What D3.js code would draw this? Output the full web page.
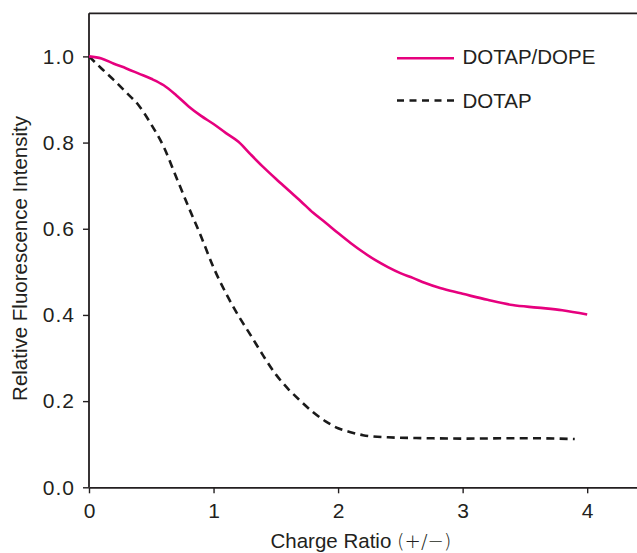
<!DOCTYPE html>
<html>
<head>
<meta charset="utf-8">
<script src="https://cdn.jsdelivr.net/npm/d3@7"></script>
<style>
  html, body { margin: 0; padding: 0; background: #fff; }
  svg { display: block; font-family: "Liberation Sans", Arial, sans-serif; }
</style>
</head>
<body>
<svg id="chart" width="637" height="553"></svg>
<script>
// ---- data ----
const dopeX = [0, 0.1, 0.2, 0.3, 0.4, 0.5, 0.6, 0.7, 0.8, 0.9, 1.0, 1.1, 1.2, 1.3, 1.4, 1.5, 1.6, 1.7, 1.8, 1.9, 2.0, 2.1, 2.2, 2.3, 2.4, 2.5, 2.6, 2.7, 2.8, 2.9, 3.0, 3.2, 3.4, 3.6, 3.8, 4.0];
const dopeY = [1.0, 0.995, 0.983, 0.972, 0.960, 0.948, 0.933, 0.910, 0.884, 0.862, 0.843, 0.822, 0.802, 0.772, 0.743, 0.716, 0.690, 0.664, 0.637, 0.614, 0.590, 0.567, 0.546, 0.527, 0.511, 0.497, 0.486, 0.474, 0.464, 0.456, 0.449, 0.435, 0.423, 0.417, 0.411, 0.401];
const dotapX = [0, 0.1, 0.2, 0.3, 0.4, 0.5, 0.6, 0.7, 0.8, 0.9, 1.0, 1.1, 1.2, 1.3, 1.4, 1.5, 1.6, 1.7, 1.8, 1.9, 2.0, 2.1, 2.2, 2.4, 2.7, 3.0, 3.5, 3.9];
const dotapY = [1.0, 0.972, 0.945, 0.916, 0.886, 0.842, 0.790, 0.720, 0.650, 0.582, 0.510, 0.450, 0.398, 0.352, 0.305, 0.262, 0.228, 0.200, 0.174, 0.153, 0.137, 0.128, 0.121, 0.116, 0.114, 0.113, 0.114, 0.112];
const seriesNames = ["DOTAP/DOPE", "DOTAP"];
const xTicks = [0, 1, 2, 3, 4];
const yTicks = [0.0, 0.2, 0.4, 0.6, 0.8, 1.0];
const xTitleMain = "Charge Ratio ";
const xTitleUnit = "(+/\u2212)";
const yTitle = "Relative Fluorescence Intensity";

(function () {
// ---- layout ----
const svg = d3.select("#chart");
const pL = 89, pR = 637, pT = 13.3, pB = 487.3;
const x = d3.scaleLinear().domain([0, 4.4]).range([pL, pR]);
const y = d3.scaleLinear().domain([0, 1.1]).range([pB, pT]);
const axisColor = "#231f20";
const magenta = "#e6007e";
const fontSize = 20.5;

// top border
svg.append("line").attr("x1", pL).attr("x2", pR).attr("y1", pT).attr("y2", pT)
  .attr("stroke", axisColor).attr("stroke-width", 1.8);

// axes
const xAxis = svg.append("g").attr("transform", `translate(0,${pB})`)
  .call(d3.axisBottom(x).tickValues(xTicks).tickFormat(d3.format("d")).tickSize(6).tickPadding(10).tickSizeOuter(0));
const yAxis = svg.append("g").attr("transform", `translate(${pL},0)`)
  .call(d3.axisLeft(y).tickValues(yTicks).tickFormat(d3.format(".1f")).tickSize(6).tickPadding(8).tickSizeOuter(0));
[xAxis, yAxis].forEach(g => {
  g.select(".domain").attr("stroke", axisColor).attr("stroke-width", 1.8);
  g.selectAll(".tick line").attr("stroke", axisColor).attr("stroke-width", 1.4);
  g.selectAll(".tick text").attr("fill", "#231f20").style("font-size", "21px")
    .style("font-family", '"Liberation Sans", Arial, sans-serif');
});
yAxis.selectAll(".tick text").style("letter-spacing", "1px");
yAxis.select(".domain").attr("d", `M0,${pT}V${pB}`);

// lines
const line = d3.line().x(d => x(d[0])).y(d => y(d[1])).curve(d3.curveMonotoneX);
const dopePts = dopeX.map((v, i) => [v, dopeY[i]]);
const dotapPts = dotapX.map((v, i) => [v, dotapY[i]]);

svg.append("path").datum(dotapPts).attr("d", line).attr("fill", "none")
  .attr("stroke", "#1a1a1a").attr("stroke-width", 2.6).attr("stroke-dasharray", "8,5.3");
svg.append("path").datum(dopePts).attr("d", line).attr("fill", "none")
  .attr("stroke", magenta).attr("stroke-width", 2.6);

// legend
const legend = svg.append("g");
legend.append("line").attr("x1", 397).attr("x2", 454).attr("y1", 58.3).attr("y2", 58.3)
  .attr("stroke", magenta).attr("stroke-width", 2.6);
legend.append("text").attr("x", 462.5).attr("y", 63.5).text(seriesNames[0])
  .attr("fill", "#231f20").style("font-size", fontSize + "px");
legend.append("line").attr("x1", 397).attr("x2", 454).attr("y1", 100.5).attr("y2", 100.5)
  .attr("stroke", "#1a1a1a").attr("stroke-width", 2.6).attr("stroke-dasharray", "7,5.5");
legend.append("text").attr("x", 462.5).attr("y", 107.5).text(seriesNames[1])
  .attr("fill", "#231f20").style("font-size", fontSize + "px");

// axis titles
const xt = svg.append("text").attr("x", 361).attr("y", 548).attr("text-anchor", "middle")
  .attr("fill", "#231f20").style("font-size", fontSize + "px");
xt.append("tspan").text(xTitleMain);
xt.append("tspan").style("font-family", '"DejaVu Sans", sans-serif').style("font-weight", "300")
  .style("font-size", "19.5px").text(xTitleUnit);
svg.append("text").attr("transform", "translate(27,258.5) rotate(-90)").attr("text-anchor", "middle")
  .attr("fill", "#231f20").style("font-size", fontSize + "px").text(yTitle);
})();
</script>
</body>
</html>
